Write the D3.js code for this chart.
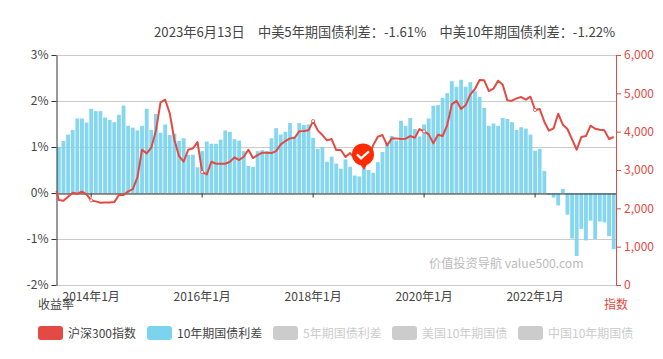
<!DOCTYPE html>
<html>
<head>
<meta charset="utf-8">
<script src="https://cdn.jsdelivr.net/npm/d3@7"></script>
<style>
  html, body { margin: 0; background: #fff; }
  text { font-family: "Noto Sans CJK SC", "Noto Sans", sans-serif; }
</style>
</head>
<body>
<div id="chart"></div>
<script>
/* CSI 300 index vs China-US 10y bond spread, monthly */

const titleText = "2023年6月13日\u3000中美5年期国债利差：-1.61%\u3000中美10年期国债利差：-1.22%";

const spreadTicks = [-2, -1, 0, 1, 2, 3];
const indexTicks = [0, 1000, 2000, 3000, 4000, 5000, 6000];
const labelMonths = ["2014-01", "2016-01", "2018-01", "2020-01", "2022-01"];
const legendNames = ["沪深300指数", "10年期国债利差", "5年期国债利差", "美国10年期国债", "中国10年期国债"];

// 2013-06 .. 2023-06
const months = d3.timeMonth.range(new Date(2013, 5, 1), new Date(2023, 6, 1)).map(d3.timeFormat("%Y-%m"));

const spread10y = [
    1.00, 1.13, 1.27, 1.37, 1.62, 1.62, 1.53,
    1.83, 1.78, 1.78, 1.64, 1.59, 1.54, 1.70, 1.90, 1.46, 1.42, 1.36, 1.46,
    1.83, 1.37, 1.72, 1.31, 1.49, 1.26, 1.29, 1.13, 1.19, 0.83, 0.83, 0.56,
    0.91, 1.12, 1.07, 1.07, 1.16, 1.36, 1.33, 1.17, 1.14, 0.91, 0.59, 0.57,
    0.91, 0.93, 0.91, 1.19, 1.41, 1.27, 1.33, 1.52, 1.23, 1.52, 1.48, 1.49,
    1.20, 0.96, 1.00, 0.68, 0.79, 0.64, 0.53, 0.73, 0.57, 0.38, 0.36, 0.54,
    0.50, 0.44, 0.67, 0.89, 1.09, 1.24, 1.14, 1.57, 1.46, 1.63, 1.39, 1.23,
    1.49, 1.62, 1.90, 1.91, 2.07, 2.17, 2.43, 2.31, 2.46, 2.31, 2.41, 2.21,
    2.09, 1.85, 1.46, 1.51, 1.46, 1.63, 1.61, 1.54, 1.37, 1.43, 1.40, 1.27,
    0.92, 0.96, 0.48, -0.04, -0.10, -0.27, 0.09, -0.47, -0.99, -1.37, -0.78,
    -1.03, -0.60, -1.00, -0.62, -0.64, -0.94, -1.22
];

const csi300 = [
    2216, 2198, 2302, 2407, 2381, 2433, 2363,
    2207, 2181, 2146, 2155, 2155, 2163, 2346, 2346, 2442, 2503, 2807, 3529,
    3433, 3581, 4025, 4765, 4834, 4478, 3782, 3364, 3216, 3529, 3564, 3729,
    2946, 2885, 3216, 3164, 3164, 3164, 3216, 3329, 3260, 3347, 3529, 3312,
    3390, 3451, 3451, 3442, 3494, 3668, 3755, 3825, 3842, 4008, 4016, 4034,
    4277, 4034, 3912, 3773, 3808, 3520, 3520, 3338, 3442, 3303, 3242, 3042,
    3303, 3651, 3869, 3912, 3642, 3825, 3825, 3808, 3816, 3886, 3842, 4069,
    4008, 3929, 3695, 3921, 3886, 4173, 4712, 4808, 4591, 4695, 4973, 5113,
    5348, 5339, 5060, 5121, 5330, 5226, 4817, 4808, 4869, 4904, 4834, 4912,
    4565, 4591, 4260, 4025, 4086, 4469, 4182, 4069, 3799, 3529, 3860, 3886,
    4156, 4077, 4051, 4034, 3808, 3860
];
const csi300Open = 2450; // line starts on the axis, a bit before the first bar

const width = 663,
      height = 359,
      margin = ({ top: 55, right: 47, bottom: 74, left: 56.5 });

const red = "#e24a43", blue = "#7bd3ee", grey = "#ccc", ink = "#333", label = "#444";

const svg = d3.select("#chart")
    .append("svg")
    .attr("width", width)
    .attr("height", height)
    .style("display", "block");

const x = d3.scaleBand()
    .domain(months)
    .range([margin.left, width - margin.right]);

const y = d3.scaleLinear()
    .domain([-2, 3])
    .range([height - margin.bottom, margin.top]);

const yRight = d3.scaleLinear()
    .domain([0, 6000])
    .range([height - margin.bottom, margin.top]);

const center = m => x(m) + x.bandwidth() / 2;

// grid
svg.append("g")
    .selectAll("line")
    .data(spreadTicks)
    .join("line")
    .attr("x1", margin.left)
    .attr("x2", width - margin.right)
    .attr("y1", d => Math.round(y(d)) + 0.5)
    .attr("y2", d => Math.round(y(d)) + 0.5)
    .attr("stroke", grey);

// bars
svg.append("g")
    .selectAll("rect")
    .data(spread10y)
    .join("rect")
    .attr("x", (d, i) => x(months[i]) + 0.4)
    .attr("width", x.bandwidth() - 0.8)
    .attr("y", d => y(Math.max(d, 0)))
    .attr("height", d => Math.abs(y(d) - y(0)))
    .attr("fill", blue)
    .attr("opacity", 0.92);

// x axis on zero, ticks only
svg.append("g")
    .attr("transform", `translate(0,${Math.round(y(0)) + 0.5})`)
    .call(d3.axisBottom(x).tickValues(labelMonths).tickSize(4).tickSizeOuter(0).tickFormat(""))
    .call(g => g.selectAll("path,line").attr("stroke", ink));

// x labels sit below the plot
svg.append("g")
    .attr("transform", `translate(0,${height - margin.bottom})`)
    .call(d3.axisBottom(x)
        .tickValues(labelMonths)
        .tickSize(0)
        .tickPadding(7)
        .tickFormat(m => d3.timeFormat("%Y年%-m月")(d3.timeParse("%Y-%m")(m))))
    .call(g => g.select(".domain").remove())
    .call(g => g.selectAll("text").attr("fill", label).style("font-size", "12px"));

// left axis
svg.append("g")
    .attr("transform", `translate(${margin.left},0)`)
    .call(d3.axisLeft(y).tickValues(spreadTicks).tickSize(5).tickSizeOuter(0).tickFormat(d => d + "%"))
    .call(g => g.selectAll("path,line").attr("stroke", ink))
    .call(g => g.selectAll("text").attr("fill", label).style("font-size", "12px"));

// right axis
svg.append("g")
    .attr("transform", `translate(${width - margin.right},0)`)
    .call(d3.axisRight(yRight).tickValues(indexTicks).tickSize(5).tickSizeOuter(0).tickFormat(d3.format(",")))
    .call(g => g.selectAll("path,line").attr("stroke", red))
    .call(g => g.selectAll("text").attr("fill", red).style("font-size", "12px"));

// index line
const linePoints = [[margin.left, yRight(csi300Open)]]
    .concat(csi300.map((d, i) => [center(months[i]), yRight(d)]));

svg.append("path")
    .attr("d", d3.line()(linePoints))
    .attr("fill", "none")
    .attr("stroke", red)
    .attr("stroke-width", 2)
    .attr("stroke-linejoin", "round");

// small open dots on the labelled months
svg.append("g")
    .selectAll("circle")
    .data(labelMonths)
    .join("circle")
    .attr("cx", m => center(m))
    .attr("cy", m => yRight(csi300[months.indexOf(m)]))
    .attr("r", 1.6)
    .attr("fill", "#fff")
    .attr("stroke", red)
    .attr("stroke-width", 0.8);

// pin on the low point of 2018-12
const pinMonth = "2018-12";
const pin = svg.append("g")
    .attr("transform", `translate(${center(pinMonth)},${yRight(csi300[months.indexOf(pinMonth)])})`);

pin.append("path")
    .attr("d", "M0,0 L-6,-8 L5,-8 Z")
    .attr("fill", "#ff2a00");

pin.append("circle")
    .attr("cx", -1)
    .attr("cy", -14)
    .attr("r", 11)
    .attr("fill", "#ff2a00");

pin.append("path")
    .attr("d", "M-7,-14 L-3,-10 L5,-17")
    .attr("fill", "none")
    .attr("stroke", "#fff")
    .attr("stroke-width", 2.2);

// title
svg.append("text")
    .attr("x", 154)
    .attr("y", 37)
    .attr("fill", label)
    .style("font-size", "13.2px")
    .text(titleText);

// axis names
svg.append("text")
    .attr("x", 38)
    .attr("y", 309)
    .attr("fill", label)
    .style("font-size", "12px")
    .text("收益率");

svg.append("text")
    .attr("x", 604)
    .attr("y", 309)
    .attr("fill", red)
    .style("font-size", "12px")
    .text("指数");

// watermark
svg.append("text")
    .attr("x", 429)
    .attr("y", 268)
    .attr("fill", "#bbb")
    .style("font-size", "12.2px")
    .text("价值投资导航 value500.com");

// legend
const legendX = [38, 147, 273, 392, 518];
const legend = svg.append("g")
    .selectAll("g")
    .data(legendNames)
    .join("g")
    .attr("transform", (d, i) => `translate(${legendX[i]},326)`);

legend.append("rect")
    .attr("width", 25)
    .attr("height", 14)
    .attr("rx", 3)
    .attr("fill", (d, i) => [red, blue][i] || grey);

legend.append("text")
    .attr("x", 30)
    .attr("y", 11.5)
    .attr("fill", (d, i) => i < 2 ? label : grey)
    .style("font-size", "12px")
    .text(d => d);
</script>
</body>
</html>
